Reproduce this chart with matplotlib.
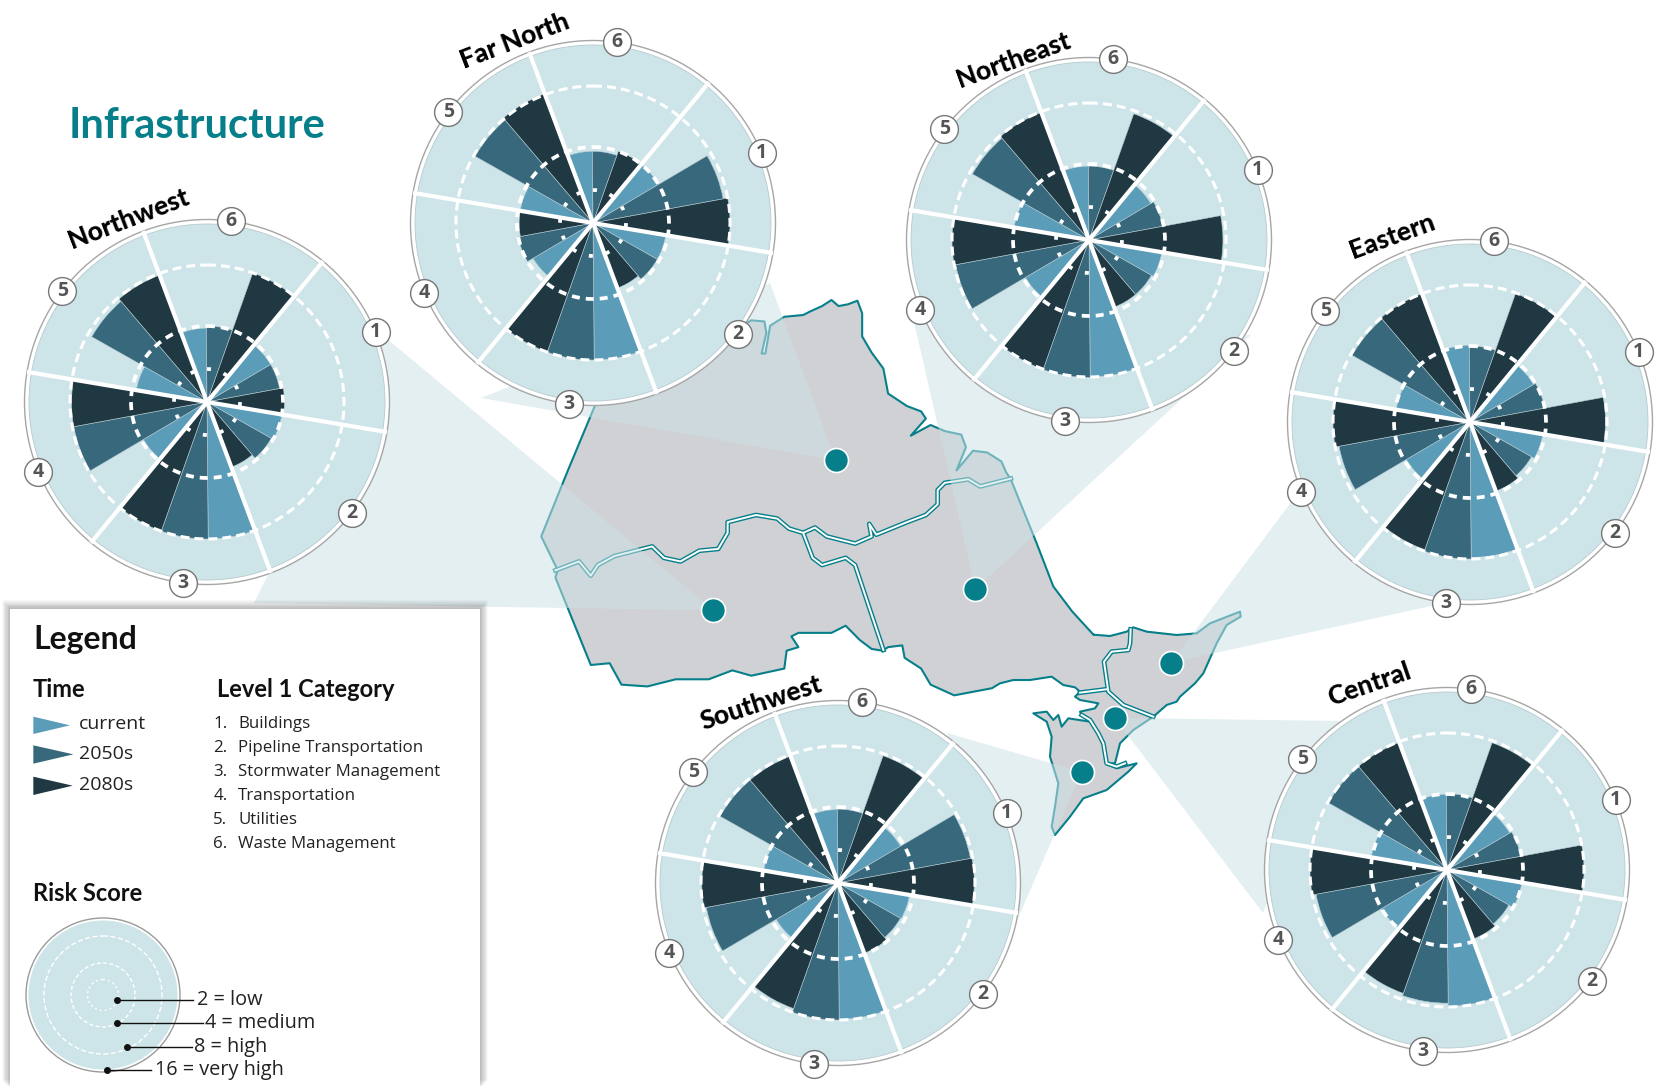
import numpy as np
import matplotlib
matplotlib.use("Agg")
import matplotlib.pyplot as plt
from matplotlib.patches import Polygon, Circle, Rectangle

W, H = 1658, 1086

# ---- data (risk score per category 1..6) ----
categories = ["Buildings", "Pipeline Transportation", "Stormwater Management",
              "Transportation", "Utilities", "Waste Management"]
times = ["current", "2050s", "2080s"]

far_north_current = [4.0, 3.9, 8.0, 3.7, 3.9, 3.8]
far_north_2050s   = [7.7, 3.9, 8.0, 4.0, 7.9, 3.8]
far_north_2080s   = [8.0, 3.7, 8.0, 3.9, 8.2, 4.0]

northwest_current = [3.9, 4.0, 8.0, 3.9, 3.8, 3.9]
northwest_2050s   = [3.9, 3.9, 8.0, 7.9, 7.7, 4.0]
northwest_2080s   = [4.1, 3.7, 8.0, 7.9, 7.9, 8.0]

northeast_current = [3.8, 3.9, 8.0, 3.9, 4.0, 3.9]
northeast_2050s   = [3.95, 3.8, 8.1, 7.9, 7.8, 3.9]
northeast_2080s   = [7.8, 3.8, 8.05, 8.0, 7.95, 7.8]

eastern_current = [3.9, 3.9, 7.9, 3.9, 3.95, 4.05]
eastern_2050s   = [4.0, 3.75, 8.0, 7.75, 7.9, 4.0]
eastern_2080s   = [7.9, 3.9, 7.9, 8.0, 8.0, 7.95]

central_current = [3.85, 4.0, 7.95, 4.0, 4.05, 3.98]
central_2050s   = [3.95, 3.77, 7.75, 7.75, 7.95, 4.02]
central_2080s   = [8.0, 3.9, 7.6, 8.0, 7.95, 7.87]

southwest_current = [3.84, 3.84, 7.95, 3.8, 3.97, 3.88]
southwest_2050s   = [7.85, 3.8, 8.0, 7.8, 7.9, 3.9]
southwest_2080s   = [7.95, 3.95, 7.75, 7.95, 7.9, 7.87]

# ---- style ----
C_CUR, C_50, C_80 = "#5b9db9", "#37687c", "#1f3842"
C_DISC = "#cde5e9"
C_TEAL = "#067f8b"
C_MAP = "#d0d1d4"
C_CONE = (204/255, 226/255, 230/255, 0.53)
DPI = 100
PT = 72 / DPI

# radial scale: score -> pixels from hub
SCORE = [0, 2, 4, 8, 16, 20]
PIX = [0, 33, 76, 137, 178, 186]
def fwd(v):
    return np.interp(v, SCORE, PIX)
def inv(p):
    return np.interp(p, PIX, SCORE)
RIM = inv(182.5)

plt.rcParams["font.family"] = ["Open Sans", "DejaVu Sans"]
fig = plt.figure(figsize=(W / DPI, H / DPI), dpi=DPI, facecolor="white")
base = fig.add_axes([0, 0, 1, 1])
base.set_xlim(0, W)
base.set_ylim(H, 0)
base.axis("off")

def ZP(pts):   # crop A coordinates -> figure pixels
    return [(520 + X * 740 / 1568, 290 + Y * 560 / 1568) for X, Y in pts]
def QP(pts):   # crop B coordinates -> figure pixels
    return [(1000 + X / 3, 600 + Y / 3) for X, Y in pts]

# ---- map (traced outline) ----
main_outline = ZP([(160,320),(300,230),(420,140),(490,85),(518,88),(522,120),(512,178),(520,178),(530,100),
    (560,75),(600,70),(615,60),(640,45),(660,28),(675,45),(695,40),(715,30),(725,65),(725,130),(745,175),(770,220),
    (780,290),(820,325),(850,340),(860,360),(828,408),(870,378),(900,395),(935,405),(945,440),(925,505),(960,450),
    (990,455),(1020,480),(1030,510),(1040,530),(1095,710),(1130,830),(1170,900),(1215,965)]) + QP([
    (280,104),(330,108),(380,95),(400,82),(440,95),(530,105),(590,100),(630,70),(720,35),(722,50),(680,75),(650,130),
    (610,220),(585,250),(540,290),(530,305),(500,315),(460,350),(400,390),(360,430),(345,490),(320,490),(310,430),
    (295,400),(270,360),(245,345),(240,335),(285,325),(295,310),(240,300),(225,290),(240,275),(225,262),(190,255),
    (155,230),(90,240),(40,240),(0,250)]) + ZP([(1000,1115),(920,1135),(870,1105),(850,1060),(815,1030),(810,995),
    (780,1000),(768,1010),(745,1005),(720,980),(690,940),(660,960),(590,960),(575,970),(590,1000),(565,1010),(560,1060),
    (490,1080),(450,1065),(400,1090),(330,1090),(270,1110),(215,1105),(190,1045),(150,1050),(75,805),(80,785),(45,690),(100,510)])
sw_outline = QP([(100,340),(140,335),(160,360),(175,345),(185,380),(205,355),(270,365),(295,400),(310,430),(320,490),
    (350,505),(410,490),(385,515),(320,570),(250,595),(210,650),(165,705),(155,680),(165,620),(175,550),(150,470),(155,410),(140,365)])
borders = [
    ZP([(75,785),(125,760),(150,800),(165,770),(200,745),(280,718),(305,750),(340,760),(380,730),(420,725),(440,680),(440,650),
     (500,630),(545,640),(570,668),(600,680),(625,665),(650,690),(710,710),(745,690),(740,655),(755,685),(820,650),(860,630),
     (885,600),(885,560),(900,540),(950,530),(975,550),(1040,528)]),
    ZP([(600,680),(620,750),(640,770),(690,750),(710,770),(770,1008)]),
    QP([(392,88),(390,130),(385,150),(335,155),(312,185),(320,240),(325,275),(370,315),(460,350)]),
    QP([(240,278),(318,268)]),
    QP([(245,345),(270,360),(295,400),(310,430),(320,490),(350,500),(375,490)]),
]
for poly in (main_outline, sw_outline):
    base.add_patch(Polygon(poly, closed=True, fc=C_MAP, ec=C_TEAL, lw=1.5, joinstyle="round", zorder=1))
for b in borders:
    xy = np.array(b)
    base.plot(xy[:,0], xy[:,1], color=C_TEAL, lw=3.4, solid_joinstyle="round", zorder=2)
    base.plot(xy[:,0], xy[:,1], color="white", lw=1.4, solid_joinstyle="round", zorder=2.1)

# ---- cones (far ends in figure pixels, hidden under the discs) ----
dots = ZP([(669,477),(410,897),(965,838),(1380,1043),(1260,1198),(1190,1350)])
cone_ends = [
    [(770,283),(481,398)],
    [(386,338),(254,603)],
    [(914,322),(1251,335)],
    [(1295,497),(1459,600)],
    [(1340,721),(1263,913)],
    [(947,733),(1015,925)],
]
for d, e in zip(dots, cone_ends):
    base.add_patch(Polygon([d] + e, closed=True, fc=C_CONE, ec="none", zorder=3))
dx, dy = zip(*dots)
base.scatter(dx, dy, s=(24 * PT) ** 2, c=C_TEAL, edgecolors="white", linewidths=1.2, zorder=4)

# ---- panels ----
regions = [
    ("Far North", 593, 223, far_north_current, far_north_2050s, far_north_2080s, 515, 41, 21),
    ("Northwest", 207, 402, northwest_current, northwest_2050s, northwest_2080s, 129, 219, 21),
    ("Northeast", 1089, 240, northeast_current, northeast_2050s, northeast_2080s, 1013, 60, 20),
    ("Eastern", 1470, 422, eastern_current, eastern_2050s, eastern_2080s, 1392, 236, 20),
    ("Central", 1447, 870, central_current, central_2050s, central_2080s, 1369, 684, 19),
    ("Southwest", 838, 883, southwest_current, southwest_2050s, southwest_2080s, 761, 703, 18),
]
RPX = PIX[-1]
START = np.radians(39.5)   # clockwise from north: where category 1 begins
STEP = np.radians(20)
BADGE = np.radians(67.5)   # clockwise from north: badge 1
th = np.linspace(0, 2 * np.pi, 361)

def dash(on_px, off_px, lw):
    return (0, (on_px * PT / lw, off_px * PT / lw))

for name, cx, cy, cur, mid, far, tx, ty, rot in regions:
    base.add_patch(Circle((cx, cy), 182.5, fc="white", ec="#a6a6a6", lw=1.0, zorder=5))
    base.add_patch(Circle((cx, cy), 178, fc=C_DISC, ec="#b7cace", lw=0.6, zorder=5.1))
    base.text(tx, ty, name, rotation=rot, rotation_mode="anchor", ha="center", va="center",
              family="Lato", weight=900, fontsize=19, color="black", zorder=6)
    ax = fig.add_axes([(cx - RPX) / W, 1 - (cy + RPX) / H, 2 * RPX / W, 2 * RPX / H], projection="polar")
    ax.set_theta_zero_location("N")
    ax.set_theta_direction(-1)
    ax.set_rscale("function", functions=(fwd, inv))
    ax.patch.set_alpha(0)
    for k in range(6):
        for j, (vals, col) in enumerate(zip((cur, mid, far), (C_CUR, C_50, C_80))):
            ax.bar(START + k * 3 * STEP + j * STEP, vals[k], width=STEP, bottom=0, align="edge",
                   color=col, edgecolor="#b9cdd4", linewidth=0.4, zorder=2)
    ax.plot(th, np.full_like(th, 8.0), color="white", lw=2.2, linestyle=dash(9, 5, 2.2),
            dash_capstyle="butt", zorder=3)
    ax.plot(th, np.full_like(th, 4.0), color="white", lw=2.7, linestyle=dash(8, 6, 2.7),
            dash_capstyle="butt", zorder=3)
    ax.plot(th, np.full_like(th, 2.0), color="white", lw=2.7, linestyle=dash(4, 13.3, 2.7),
            dash_capstyle="butt", zorder=3)
    for k in range(6):
        a = START + k * 3 * STEP
        ax.plot([a, a], [0, RIM], color="white", lw=3.0, solid_capstyle="butt", zorder=4)
    for k in range(6):
        a = BADGE + k * 3 * STEP
        ax.plot([a], [RIM], "o", ms=20, mfc="white", mec="#777777", mew=1.0, clip_on=False, zorder=5)
        ax.text(a, RIM, str(k + 1), ha="center", va="center", fontsize=14, weight="bold",
                color="#555555", clip_on=False, zorder=6)
    ax.set_rlim(0, 20)
    ax.axis("off")

# ---- title ----
base.text(69, 126, "Infrastructure", family="Lato", weight="bold", fontsize=30, color=C_TEAL,
          ha="left", va="center", zorder=6)

# ---- legend ----
for i in range(10, 0, -1):
    base.add_patch(Rectangle((10 - i * .8, 609 - i * .9), 470 + i * 1.6, 480, fc="black", alpha=0.028, ec="none", zorder=7))
base.add_patch(Rectangle((10, 609), 470, 480, fc="white", ec="none", zorder=7.1))
LZ = 8
def L(x, y): return x / 3, 600 + y / 3
t = lambda X, Y, s, **kw: base.text(*L(X, Y), s, va="center", ha="left", zorder=LZ, **kw)
t(100, 118, "Legend", family="Lato", weight="bold", fontsize=23, color="#111111")
t(97, 268, "Time", family="Lato", weight="bold", fontsize=17, color="#111111")
t(652, 268, "Level 1 Category", family="Lato", weight="bold", fontsize=17, color="#111111")
t(100, 881, "Risk Score", family="Lato", weight="bold", fontsize=17, color="#111111")
for (X1, Y0, Y1, Y2, X2), col, lab, Yt in zip(
        [(100, 350, 376, 402, 210), (100, 436, 463, 491, 220), (100, 530, 557, 585, 218)],
        (C_CUR, C_50, C_80), times, (371, 462, 554)):
    base.add_patch(Polygon([L(X1, Y0), L(X2, Y1), L(X1, Y2)], closed=True, fc=col, ec="none", zorder=LZ))
    t(237, Yt, lab, fontsize=14, color="#222222")
for i, (cat, Yt) in enumerate(zip(categories, (371, 443, 515, 587, 659, 731))):
    t(640, Yt, f"{i + 1}.", fontsize=12.2, color="#222222")
    t(715, Yt, cat, fontsize=12.2, color="#222222")
lc = (103, 995)
base.add_patch(Circle(lc, 77, fc="white", ec="#9a9a9a", lw=1.0, zorder=LZ))
base.add_patch(Circle(lc, 74.5, fc=C_DISC, ec="none", zorder=LZ))
for r, on, off, lw in ((59, 5, 2.5, 1.0), (32, 4, 2.5, 1.0), (15.5, 2, 3, 1.0)):
    base.add_patch(Circle(lc, r, fc="none", ec="white", lw=lw, ls=dash(on, off, lw), zorder=LZ))
leaders = [(350, 578, 1200, "2 = low", 590), (350, 610, 1270, "4 = medium", 615),
           (380, 575, 1342, "8 = high", 583), (320, 452, 1410, "16 = very high", 465)]
for X0, X1, Y, lab, Xt in leaders:
    p0, p1 = L(X0, Y), L(X1, Y)
    base.plot([p0[0], p1[0]], [p0[1], p1[1]], color="#111111", lw=1.0, zorder=LZ + 0.1)
    base.scatter([p0[0]], [p0[1]], s=16, c="#111111", zorder=LZ + 0.1)
    t(Xt, Y, lab, fontsize=14.3, color="#222222")
base.set_xlim(0, W)
base.set_ylim(H, 0)
fig.savefig("out.png", dpi=DPI, facecolor="white")
